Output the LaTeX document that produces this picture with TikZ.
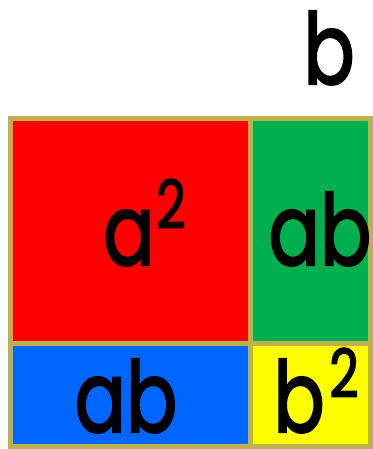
\documentclass[tikz,border=0pt]{standalone}
\usepackage{graphicx}
\usepackage{fontspec}
\setmainfont{Poppins}
\newfontfamily\popfont{Poppins}[FakeBold=2.4]
\definecolor{edge}{RGB}{191,176,78}
\definecolor{cred}{RGB}{255,0,0}
\definecolor{cgreen}{RGB}{0,176,80}
\definecolor{cblue}{RGB}{0,102,255}
\definecolor{cyellow}{RGB}{255,255,0}
\newcommand{\sq}[1]{\scalebox{0.77}[1]{#1}}
\tikzset{
  big/.style={inner sep=0pt, anchor=base, font=\fontsize{74}{76}\popfont},
  sup/.style={inner sep=0pt, anchor=base west, font=\fontsize{50}{52}\popfont},
  grid/.style={draw=edge, line width=3.75pt}
}
\begin{document}
\begin{tikzpicture}[x=0.75pt,y=-0.75pt]
\useasboundingbox (0,0) rectangle (372,449);
\fill[cred] (10.5,118.5) rectangle (250.5,343.5);
\fill[cgreen] (250.5,118.5) rectangle (370.5,343.5);
\fill[cblue] (10.5,343.5) rectangle (250.5,446.5);
\fill[cyellow] (250.5,343.5) rectangle (370.5,446.5);
\draw[grid] (10.5,118.5) rectangle (370.5,446.5);
\draw[grid] (250.5,118.5) -- (250.5,446.5);
\draw[grid] (10.5,343.5) -- (370.5,343.5);
\node[big] (btop) at (329,84) {\sq{b}};
\node[big] (asq) at (129,265) {\sq{a}};
\node[sup] (asq2) at (156,228) {\sq{2}};
\node[big] (abg) at (320,265) {\sq{ab}};
\node[big] (abb) at (126,432) {\sq{ab}};
\node[big] (bsq) at (299,432) {\sq{b}};
\node[sup] (bsq2) at (329,397) {\sq{2}};
\end{tikzpicture}
\end{document}
